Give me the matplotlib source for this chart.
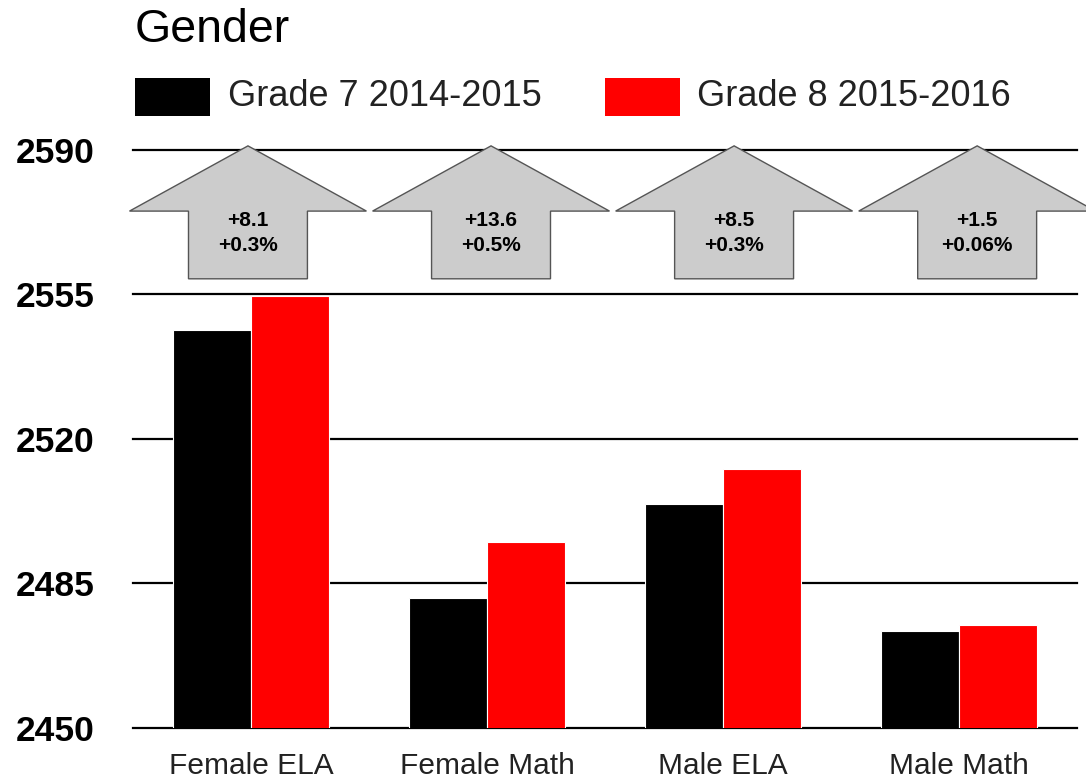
import matplotlib
matplotlib.use('Agg')
import matplotlib.pyplot as plt
import numpy as np
from matplotlib.patches import Polygon, Rectangle

#### data
categories = ['Female ELA', 'Female Math', 'Male ELA', 'Male Math']
grade7 = [2546.5, 2481.4, 2504.2, 2473.5]          # Grade 7 2014-2015
gains = [8.1, 13.6, 8.5, 1.5]                       # change to Grade 8
pct_labels = ['+0.3%', '+0.5%', '+0.3%', '+0.06%']
grade8 = [g + d for g, d in zip(grade7, gains)]     # Grade 8 2015-2016
yticks = [2450, 2485, 2520, 2555, 2590]

plt.rcParams['font.family'] = ['Liberation Sans', 'DejaVu Sans']

#### plot
fig = plt.figure(figsize=(10.86, 7.78), dpi=100)
ax = fig.add_axes([0.1225, 0.0643, 0.8692, 0.7429])

x = np.arange(len(categories))
w = 0.33
ax.bar(x - w / 2, grade7, w, color='black', edgecolor='white', linewidth=0.8, zorder=3)
ax.bar(x + w / 2, grade8, w, color='#ff0000', edgecolor='white', linewidth=0.8, zorder=3)

# horizontal gridlines (not clipped, so the top and bottom ones keep full width)
for yt in yticks:
    ax.axhline(yt, color='black', linewidth=1.6, zorder=2, clip_on=False)

ax.set_xlim(-0.5, len(categories) - 0.5)
ax.set_ylim(2450, 2590)

# up arrows with gain labels (spaced a little wider than the groups)
tip, head_base, tail = 2591.0, 2575.2, 2558.8
for i, (d, p) in enumerate(zip(gains, pct_labels)):
    c = i * 1.03 - 0.013
    pts = [(c, tip), (c + 0.502, head_base), (c + 0.252, head_base),
           (c + 0.252, tail), (c - 0.252, tail), (c - 0.252, head_base),
           (c - 0.502, head_base)]
    ax.add_patch(Polygon(pts, closed=True, facecolor='#cccccc',
                         edgecolor='#555555', linewidth=1.0,
                         clip_on=False, zorder=4))
    ax.text(c, 2569.9, f'+{d}\n{p}', ha='center', va='center',
            fontsize=15, fontweight='bold', linespacing=1.45, zorder=5)

# axes formatting
for spine in ax.spines.values():
    spine.set_visible(False)
ax.set_yticks(yticks)
ax.set_yticklabels([str(t) for t in yticks], fontsize=25.5, fontweight='bold')
ax.set_xticks(x)
ax.set_xticklabels(categories, fontsize=21.5, color='#222222')
ax.tick_params(axis='y', length=0, pad=28)
ax.tick_params(axis='x', length=0, pad=17)

# title and legend
fig.text(135 / 1086, 1 - 30 / 778, 'Gender', fontsize=33.5, ha='left', va='center')
legend_items = [('black', 'Grade 7 2014-2015', 135, 228),
                ('#ff0000', 'Grade 8 2015-2016', 605, 697)]
for color, label, bx, tx in legend_items:
    fig.patches.append(Rectangle((bx / 1086, 1 - 116 / 778), 75 / 1086, 38 / 778,
                                 facecolor=color, edgecolor='none',
                                 transform=fig.transFigure, figure=fig))
    fig.text(tx / 1086, 1 - 97 / 778, label, fontsize=26, color='#222222',
             ha='left', va='center')

fig.savefig('out.png', dpi=100)
